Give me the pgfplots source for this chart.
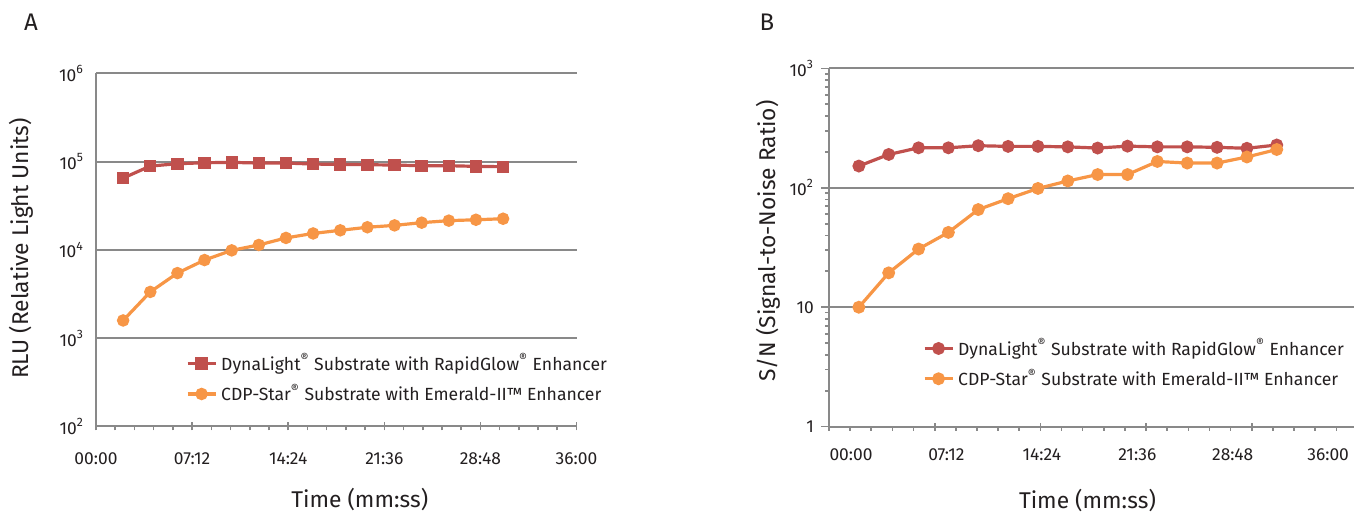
\documentclass[border=0pt]{standalone}
\usepackage{fontspec}
\setmainfont{Fira Sans}
\usepackage{pgfplots}
\pgfplotsset{compat=1.18}

\definecolor{dlred}{RGB}{192,80,77}
\definecolor{cdporange}{RGB}{247,150,70}
\definecolor{gridgray}{RGB}{137,137,137}
\definecolor{txt}{RGB}{35,31,32}

% both panels share the time axis, the grey frame and the legend look
\pgfplotsset{
  panel/.style={
    scale only axis, anchor=south west,
    xmin=0, xmax=36,
    xtick={0,7.2,14.4,21.6,28.8,36}, minor x tick num=4,
    axis x line*=bottom, axis y line*=left,
    axis line style={gridgray, line width=1pt, -},
    ymajorgrids, major grid style={gridgray, line width=1pt},
    xtick align=center, major tick length=4pt, minor tick length=2pt,
    minor x tick style={yshift=-1pt},
    tick style={gridgray, line width=0.8pt},
    tick label style={font=\fontsize{8.7}{10}\selectfont, text=txt},
    xticklabel style={anchor=center, yshift=-14pt},
    label style={font=\fontsize{11.4}{13}\selectfont, text=txt},
    legend style={draw=none, fill=none, inner sep=0pt,
      font=\fontsize{8.8}{10}\selectfont, text=txt,
      row sep=1.2pt, nodes={inner sep=2pt}},
    legend cell align=left,
    legend image code/.code={
      \draw[mark repeat=2, mark phase=2, #1]
        plot coordinates {(0pt,0pt) (7pt,0pt) (14pt,0pt)};},
  },
  dl/.style={dlred, line width=1.6pt, mark options={solid, fill=dlred, draw=dlred}},
  cdp/.style={cdporange, line width=1.6pt, mark=*, mark size=2.3pt,
    mark options={solid, fill=cdporange, draw=cdporange}},
}

\begin{document}
\begin{tikzpicture}
\useasboundingbox (0,0) rectangle (677pt,256pt);

\node[font=\fontsize{12}{14}\selectfont, text=txt] at (15.5pt,245pt) {A};
\node[font=\fontsize{12}{14}\selectfont, text=txt] at (383.5pt,245pt) {B};

% A: RLU
\begin{axis}[panel,
  at={(48pt,42.75pt)}, width=240.25pt, height=176.5pt,
  ymode=log, ymin=1e2, ymax=1e6,
  ytick={1e2,1e3,1e4,1e5,1e6}, yminorticks=false,
  yticklabels={10\textsuperscript{2},10\textsuperscript{3},10\textsuperscript{4},10\textsuperscript{5},10\textsuperscript{6}},
  ytick style={draw=none}, yticklabel style={xshift=-2.5pt},
  xticklabels={00:00,07:12,14:24,21:36,28:48,36:00},
  xlabel={Time (mm:ss)}, ylabel={RLU (Relative Light Units)},
  xlabel style={at={(axis description cs:0.549,-0.208)}, anchor=center},
  ylabel style={at={(axis description cs:-0.156,0.504)}, anchor=center},
  legend style={at={(axis description cs:0.1865,0.135)}, anchor=west},
]
\addplot[dl, mark=square*, mark size=2.3pt] coordinates {
  (2.033,65300) (4.067,89300) (6.100,94900) (8.133,97400) (10.167,98300)
  (12.200,96600) (14.233,96600) (16.267,94100) (18.300,93300) (20.333,92500)
  (22.367,91700) (24.400,90100) (26.433,90100) (28.467,88600) (30.500,87800)
};
\addlegendentry{DynaLight\textsuperscript{®} Substrate with RapidGlow\textsuperscript{®} Enhancer}
\addplot[cdp] coordinates {
  (2.033,1590) (4.067,3350) (6.100,5470) (8.133,7690) (10.167,9900)
  (12.200,11400) (14.233,13700) (16.267,15400) (18.300,16700) (20.333,18100)
  (22.367,19000) (24.400,20400) (26.433,21500) (28.467,22000) (30.500,22600)
};
\addlegendentry{CDP-Star\textsuperscript{®} Substrate with Emerald-II™ Enhancer}
\end{axis}

% B: signal-to-noise
\begin{axis}[panel,
  at={(414.5pt,42.65pt)}, width=264.25pt, height=179.2pt,
  ymode=log, ymin=1, ymax=1e3,
  ytick={1,10,100,1000}, ytick align=outside,
  yticklabels={1,10,10\textsuperscript{2},10\textsuperscript{3}},
  xticklabels={{},{},{},{},{},{}},
  extra x ticks={1.5,8,14.5,21,27.5,34},
  extra x tick labels={00:00,07:12,14:24,21:36,28:48,36:00},
  extra x tick style={major tick length=0pt, tick style={draw=none}},
  xlabel={Time (mm:ss)}, ylabel={S/N (Signal-to-Noise Ratio)},
  xlabel style={at={(axis description cs:0.489,-0.205)}, anchor=center},
  ylabel style={at={(axis description cs:-0.115,0.518)}, anchor=center},
  legend style={at={(axis description cs:0.177,0.176)}, anchor=west},
]
\addplot[dl, mark=*, mark size=2.4pt] coordinates {
  (2.033,152) (4.067,190) (6.100,216) (8.133,216) (10.167,225)
  (12.200,222) (14.233,222) (16.267,220) (18.300,215) (20.333,223)
  (22.367,220) (24.400,220) (26.433,218) (28.467,214) (30.500,228)
};
\addlegendentry{DynaLight\textsuperscript{®} Substrate with RapidGlow\textsuperscript{®} Enhancer}
\addplot[cdp, mark size=2.4pt] coordinates {
  (2.033,10) (4.067,19.4) (6.100,30.7) (8.133,42.3) (10.167,65.7)
  (12.200,81) (14.233,98.7) (16.267,114) (18.300,129) (20.333,129)
  (22.367,166) (24.400,161) (26.433,161) (28.467,181) (30.500,209)
};
\addlegendentry{CDP-Star\textsuperscript{®} Substrate with Emerald-II™ Enhancer}
\end{axis}
\end{tikzpicture}
\end{document}
